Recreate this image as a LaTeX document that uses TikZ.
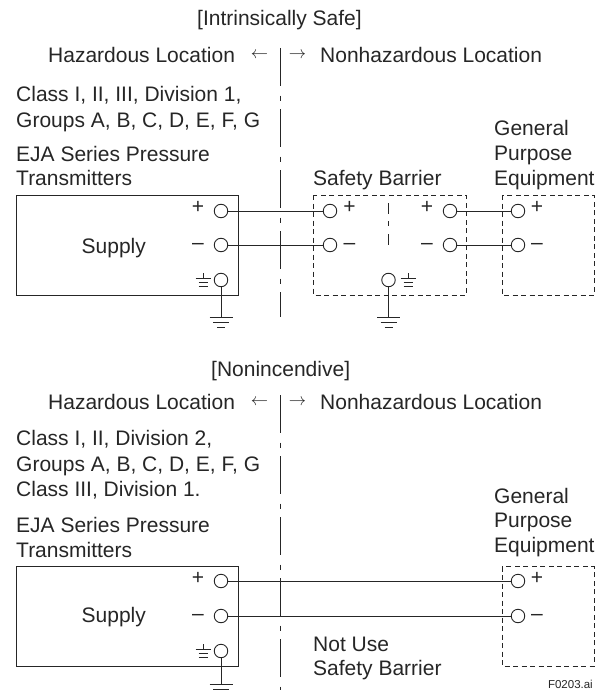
\documentclass[tikz,border=0pt]{standalone}
\usepackage{fontspec}
\setmainfont{Liberation Sans}
\usetikzlibrary{calc}
\tikzset{
 lbl/.style={inner sep=0pt,anchor=base west,font=\fontsize{21}{25}\selectfont,text=black!85},
 sym/.style={inner sep=0pt,font=\fontsize{21}{25}\selectfont,text=black!85},
 arrowsym/.style={inner sep=0pt,font=\fontsize{18}{20}\selectfont,text=black!85},
 term/.style={circle,draw=black!85,fill=white,minimum size=13.5pt,inner sep=0pt,line width=.9pt},
 wire/.style={line width=.9pt,black!85},
 solidbox/.style={draw=black!85,line width=.9pt},
 dashbox/.style={draw=black!85,line width=.9pt,dash pattern=on 5pt off 3.5pt},
 divline/.style={line width=.9pt,black!85,dash pattern=on 38pt off 9.5pt on 5pt off 8.5pt},
}
\newcommand{\gnd}[1]{%
 \draw[wire] ($(#1)+(-11.5,0)$) -- ($(#1)+(11.5,0)$);
 \draw[wire] ($(#1)+(-8,5)$) -- ($(#1)+(8,5)$);
 \draw[wire] ($(#1)+(-4,10)$) -- ($(#1)+(4,10)$);}
\newcommand{\smallgnd}[1]{%
 \draw[wire,line width=.7pt] ($(#1)+(0,-5)$) -- ($(#1)+(0,0)$);
 \draw[wire,line width=.7pt] ($(#1)+(-7.5,0)$) -- ($(#1)+(7.5,0)$);
 \draw[wire,line width=.7pt] ($(#1)+(-4.5,4)$) -- ($(#1)+(4.5,4)$);
 \draw[wire,line width=.7pt] ($(#1)+(-4.5,8)$) -- ($(#1)+(4.5,8)$);}
\begin{document}
\begin{tikzpicture}[x=1pt,y=-1pt]
\useasboundingbox (0,0) rectangle (605,693);
% upper
\node[lbl] (t1) at (197,26) {[Intrinsically Safe]};
\node[lbl] (h1) at (48,63) {Hazardous Location};
\node[arrowsym] (a1) at (259.5,55) {$\leftarrow$};
\node[arrowsym] (a2) at (297.5,55) {$\rightarrow$};
\node[lbl] (n1) at (320,63) {Nonhazardous Location};
\node[lbl] (c1) at (16,101) {Class I, II, III, Division 1,};
\node[lbl] (c2) at (16,127) {Groups A, B, C, D, E, F, G};
\node[lbl] (e1) at (16,161) {EJA Series Pressure};
\node[lbl] (e2) at (16,185) {Transmitters};
\node[lbl] (g1a) at (494,135) {General};
\node[lbl] (g1b) at (494,160) {Purpose};
\node[lbl] (g1c) at (494,185) {Equipment};
\node[lbl] (sb1) at (313,185) {Safety Barrier};
\coordinate (d1a) at (280,48); \coordinate (d1b) at (280,317);
\draw[divline] (d1a) -- (d1b);
\draw[solidbox] (16,195) rectangle (238,295);
\draw[dashbox] (313.5,195) rectangle (466,295);
\draw[dashbox] (502,195) rectangle (594,295);
\node[lbl] (sup1) at (81.5,253) {Supply};
\coordinate (ca) at (388.5,203); \coordinate (cb) at (388.5,245);
\draw[wire,dash pattern=on 10.5pt off 7.5pt on 5pt off 8pt on 11pt off 5pt] (ca) -- (cb);
\node[term] (ap) at (221,211) {}; \node[term] (am) at (221,245) {}; \node[term] (ag) at (221,280) {};
\node[term] (bp) at (330,211) {}; \node[term] (bm) at (330,245) {};
\node[term] (cp) at (450,211) {}; \node[term] (cm) at (450,245) {};
\node[term] (bg) at (388.5,280) {};
\node[term] (ep) at (518,211) {}; \node[term] (em) at (518,245) {};
\coordinate (g1) at (221,317); \coordinate (g2) at (388.5,317);
\draw[wire] (ap) -- (bp); \draw[wire] (am) -- (bm);
\draw[wire] (cp) -- (ep); \draw[wire] (cm) -- (em);
\draw[wire] (ag) -- (g1); \draw[wire] (bg) -- (g2);
\gnd{g1} \gnd{g2}
\node[sym] at (198,207) {+}; \node[sym] at (198,246) {–};
\node[sym] at (349.5,207) {+}; \node[sym] at (349.5,246) {–};
\node[sym] at (427,207) {+}; \node[sym] at (427,246) {–};
\node[sym] at (537,207) {+}; \node[sym] at (537,246) {–};
\coordinate (s1) at (203,278); \coordinate (s2) at (408,278);
\smallgnd{s1} \smallgnd{s2}
% lower
\node[lbl] (t2) at (211,376) {[Nonincendive]};
\node[lbl] (h2) at (48,409) {Hazardous Location};
\node[arrowsym] (a3) at (259.5,402) {$\leftarrow$};
\node[arrowsym] (a4) at (297.5,402) {$\rightarrow$};
\node[lbl] (n2) at (320,409) {Nonhazardous Location};
\node[lbl] (k1) at (16,445) {Class I, II, Division 2,};
\node[lbl] (k2) at (16,471) {Groups A, B, C, D, E, F, G};
\node[lbl] (k3) at (16,496) {Class III, Division 1.};
\node[lbl] (e3) at (16,532) {EJA Series Pressure};
\node[lbl] (e4) at (16,557) {Transmitters};
\node[lbl] (g2a) at (494,503) {General};
\node[lbl] (g2b) at (494,527) {Purpose};
\node[lbl] (g2c) at (494,552) {Equipment};
\node[lbl] (nu1) at (313,651) {Not Use};
\node[lbl] (nu2) at (313,675) {Safety Barrier};
\coordinate (d2a) at (280,395); \coordinate (d2b) at (280,690);
\draw[divline] (d2a) -- (d2b);
\draw[solidbox] (16,566.5) rectangle (238,666);
\draw[dashbox] (502,566.5) rectangle (594,666);
\node[lbl] (sup2) at (81.5,622) {Supply};
\node[term] (lp) at (221,581) {}; \node[term] (lm) at (221,616) {}; \node[term] (lg) at (221,651) {};
\node[term] (rp) at (518,581) {}; \node[term] (rm) at (518,616) {};
\coordinate (g3) at (221,684);
\draw[wire] (lp) -- (rp); \draw[wire] (lm) -- (rm); \draw[wire] (lg) -- (g3);
\draw[wire] ($(g3)+(-11.5,0)$) -- ($(g3)+(11.5,0)$);
\draw[wire] ($(g3)+(-8,5)$) -- ($(g3)+(8,5)$);
\node[sym] at (198,578) {+}; \node[sym] at (198,617) {–};
\node[sym] at (537,578) {+}; \node[sym] at (537,617) {–};
\coordinate (s3) at (203,649); \smallgnd{s3}
\node[inner sep=0pt,anchor=base east,font=\fontsize{11.5}{14}\selectfont,text=black!85] (fn) at (593,688) {F0203.ai};
\end{tikzpicture}
\end{document}
